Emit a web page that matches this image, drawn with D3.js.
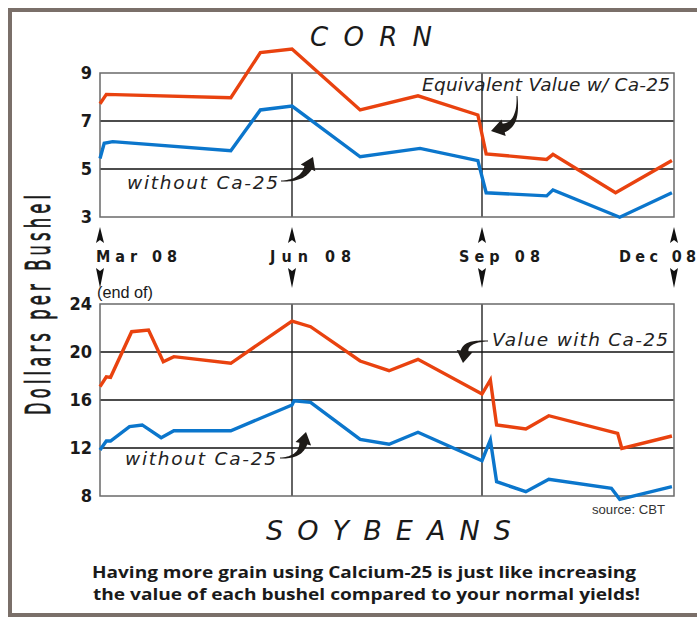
<!DOCTYPE html>
<html><head><meta charset="utf-8">
<script src="https://cdn.jsdelivr.net/npm/d3@7"></script>
<style>
html,body{margin:0;padding:0;background:#fff;}
svg{display:block;}
</style></head>
<body>
<svg id="chart" width="697" height="618"></svg>
<script>
// ---------------- DATA ----------------
const quarterDates = ["2008-03-31","2008-06-30","2008-09-30","2008-12-31"];
const monthLabels = ["Mar 08","Jun 08","Sep 08","Dec 08"];
const cornTicks = [3,5,7,9];
const soyTicks = [8,12,16,20,24];

const cornWithDates = ["2008-03-31","2008-04-03","2008-06-01","2008-06-15","2008-06-30","2008-08-02","2008-08-30","2008-09-28","2008-10-02","2008-10-31","2008-11-03","2008-12-03","2008-12-30"];
const cornWithValues = [7.72,8.11,7.97,9.85,10.0,7.46,8.05,7.25,5.63,5.40,5.61,4.01,5.35];

const cornWithoutDates = ["2008-03-31","2008-04-02","2008-04-06","2008-06-01","2008-06-15","2008-06-30","2008-08-02","2008-08-31","2008-09-28","2008-10-02","2008-10-31","2008-11-03","2008-12-05","2008-12-30"];
const cornWithoutValues = [5.44,6.07,6.14,5.76,7.46,7.62,5.51,5.86,5.35,4.01,3.88,4.13,2.99,4.01];

const soyWithDates = ["2008-03-31","2008-04-03","2008-04-05","2008-04-15","2008-04-23","2008-04-30","2008-05-05","2008-06-01","2008-06-30","2008-07-09","2008-08-02","2008-08-16","2008-08-30","2008-09-30","2008-10-04","2008-10-07","2008-10-21","2008-11-01","2008-12-04","2008-12-06","2008-12-30"];
const soyWithValues = [17.11,17.94,17.89,21.69,21.83,19.19,19.61,19.06,22.58,22.11,19.25,18.44,19.39,16.5,17.67,13.92,13.58,14.69,13.22,11.97,13.0];

const soyWithoutDates = ["2008-03-31","2008-04-03","2008-04-05","2008-04-14","2008-04-20","2008-04-29","2008-05-05","2008-06-01","2008-06-30","2008-07-01","2008-07-09","2008-08-02","2008-08-16","2008-08-30","2008-09-30","2008-10-04","2008-10-07","2008-10-21","2008-11-01","2008-12-01","2008-12-05","2008-12-30"];
const soyWithoutValues = [11.83,12.58,12.58,13.78,13.92,12.86,13.44,13.44,15.58,15.94,15.81,12.72,12.31,13.31,10.94,12.67,9.19,8.36,9.39,8.64,7.72,8.78];

// ---------------- LAYOUT ----------------
const parse = d3.timeParse("%Y-%m-%d");
const RED = "#e9420f", BLUE = "#0b76cc";
const svg = d3.select("#chart");

// outer frame
svg.append("rect").attr("x",10).attr("y",10).attr("width",700).attr("height",605)
  .attr("fill","none").attr("stroke","#7a6f69").attr("stroke-width",4);

const x = d3.scaleTime().domain(quarterDates.map(parse)).range([100,292,482,674]);
const yCorn = d3.scaleLinear().domain([3,9]).range([217,73]);
const ySoy = d3.scaleLinear().domain([8,24]).range([496,304]);

function panel(y, ticks) {
  const g = svg.append("g");
  const [y0, y1] = y.range();
  g.selectAll("line.h").data(ticks.slice(1,-1)).join("line")
    .attr("x1",x.range()[0]).attr("x2",x.range()[3])
    .attr("y1",d=>y(d)).attr("y2",d=>y(d))
    .attr("stroke","#111").attr("stroke-width",1.3);
  g.selectAll("line.v").data(quarterDates.slice(1,-1)).join("line")
    .attr("x1",d=>x(parse(d))).attr("x2",d=>x(parse(d)))
    .attr("y1",y1).attr("y2",y0)
    .attr("stroke","#111").attr("stroke-width",1.3);
  g.append("rect").attr("x",x.range()[0]).attr("y",y1)
    .attr("width",x.range()[3]-x.range()[0]).attr("height",y0-y1)
    .attr("fill","none").attr("stroke","#6a6a6a").attr("stroke-width",1.5);
  const ax = d3.axisLeft(y).tickValues(ticks).tickSize(0).tickPadding(8).tickFormat(d3.format("d"));
  const a = svg.append("g").attr("transform",`translate(${x.range()[0]},0)`).call(ax);
  a.select(".domain").remove();
  a.selectAll("text").attr("font-family","'DejaVu Sans Condensed','DejaVu Sans',sans-serif")
    .attr("font-weight","bold").attr("font-size",18).attr("fill","#1a1a1a");
}
panel(yCorn, cornTicks);
panel(ySoy, soyTicks);

function series(dates, values, y, color) {
  const pts = dates.map((d,i)=>[parse(d), values[i]]);
  svg.append("path").datum(pts)
    .attr("d", d3.line().x(d=>x(d[0])).y(d=>y(d[1])))
    .attr("fill","none").attr("stroke",color).attr("stroke-width",3.4)
    .attr("stroke-linejoin","miter").attr("stroke-linecap","butt");
}
series(cornWithDates, cornWithValues, yCorn, RED);
series(cornWithoutDates, cornWithoutValues, yCorn, BLUE);
series(soyWithDates, soyWithValues, ySoy, RED);
series(soyWithoutDates, soyWithoutValues, ySoy, BLUE);

// month labels and arrows
const labelOffsets = [-4,-22,-23,-55];
const labelWidths = [81,81,81,77];
const mg = svg.append("g");
quarterDates.forEach((d,i)=>{
  const xx = x(parse(d));
  mg.append("path").attr("d",`M${xx},227 L${xx+4},243 L${xx},240 L${xx-4},243 Z`).attr("fill","#111");
  mg.append("path").attr("d",`M${xx},288 L${xx+4},268 L${xx},271 L${xx-4},268 Z`).attr("fill","#111");
  mg.append("text").attr("x",xx+labelOffsets[i]).attr("y",262)
    .attr("font-family","'DejaVu Sans Condensed','DejaVu Sans',sans-serif")
    .attr("font-weight","bold").attr("font-size",16).attr("fill","#1a1a1a")
    .attr("textLength",labelWidths[i]).attr("lengthAdjust","spacing")
    .text(monthLabels[i].replace(" ","  "));
});

svg.append("text").attr("x",97).attr("y",298)
  .attr("font-family","'Liberation Sans',sans-serif")
  .attr("font-size",16).attr("fill","#1a1a1a")
  .attr("textLength",56).attr("lengthAdjust","spacingAndGlyphs").text("(end of)");

// axis title (tall condensed glyphs, widely spaced)
svg.append("text").attr("transform","translate(50,305) rotate(-90) scale(0.48,1)")
  .attr("text-anchor","middle")
  .attr("font-family","'DejaVu Sans',sans-serif")
  .attr("font-size",34).attr("fill","#1a1a1a")
  .attr("stroke","#1a1a1a").attr("stroke-width",0.9)
  .attr("textLength",458).attr("lengthAdjust","spacing")
  .text("Dollars per Bushel");

// titles
const titleFont = "'DejaVu Sans',sans-serif";
svg.append("text").attr("x",310).attr("y",46).attr("font-family",titleFont)
  .attr("font-style","italic").attr("font-size",26).attr("fill","#1a1a1a")
  .attr("textLength",122).attr("lengthAdjust","spacing").text("CORN");
svg.append("text").attr("x",266).attr("y",540).attr("font-family",titleFont)
  .attr("font-style","italic").attr("font-size",27).attr("fill","#1a1a1a")
  .attr("textLength",245).attr("lengthAdjust","spacing").text("SOYBEANS");

// annotations
function note(txt, x0, yb, w) {
  svg.append("text").attr("x",x0).attr("y",yb).attr("font-family",titleFont)
    .attr("font-style","italic").attr("font-size",18.5).attr("fill","#222")
    .attr("textLength",w).attr("lengthAdjust","spacing").text(txt);
}
note("Equivalent Value w/ Ca-25", 422, 91, 248);
note("without Ca-25", 127, 189, 151);
note("without Ca-25", 125, 465, 151);
note("Value with Ca-25", 492, 346, 176);

function swoosh(S, C, T, headLen, headW, w0, w1) {
  const dx = T[0]-C[0], dy = T[1]-C[1], L = Math.hypot(dx,dy);
  const ux = dx/L, uy = dy/L;
  const B = [T[0]-ux*headLen, T[1]-uy*headLen];
  const left = [], right = [];
  const N = 20;
  for (let i=0;i<=N;i++){
    const t=i/N, mt=1-t;
    const px = mt*mt*S[0]+2*mt*t*C[0]+t*t*B[0];
    const py = mt*mt*S[1]+2*mt*t*C[1]+t*t*B[1];
    let tx = 2*mt*(C[0]-S[0])+2*t*(B[0]-C[0]);
    let ty = 2*mt*(C[1]-S[1])+2*t*(B[1]-C[1]);
    const tl = Math.hypot(tx,ty)||1; tx/=tl; ty/=tl;
    const nx=-ty, ny=tx, w=(w0+(w1-w0)*Math.pow(t,1.4))/2;
    left.push([px+nx*w,py+ny*w]); right.push([px-nx*w,py-ny*w]);
  }
  const nx=-uy, ny=ux;
  const pts = left.concat([[B[0]+nx*headW/2,B[1]+ny*headW/2],T,[B[0]-nx*headW/2,B[1]-ny*headW/2]], right.reverse());
  svg.append("path").attr("d","M"+pts.map(p=>p.join(",")).join("L")+"Z").attr("fill","#1e1b18");
}
swoosh([281,181],[302,181],[313,157],12,16,1,8);
swoosh([517,96],[519,124],[491,131],13,17,1,9);
swoosh([280,458],[300,458],[306,432],12,16,1,8);
swoosh([488,341],[466,341],[463,363],12,16,1,8);

// source
svg.append("text").attr("x",592).attr("y",514)
  .attr("font-family","'Liberation Sans',sans-serif")
  .attr("font-size",13).attr("fill","#333")
  .attr("textLength",73).attr("lengthAdjust","spacingAndGlyphs").text("source: CBT");

// bottom message
const msg = ["Having more grain using Calcium-25 is just like increasing","the value of each bushel compared to your normal yields!"];
svg.selectAll("text.msg").data(msg).join("text").attr("class","msg")
  .attr("x",(d,i)=>i?93:92).attr("y",(d,i)=>578+i*22)
  .attr("font-family","'Open Sans','DejaVu Sans',sans-serif").attr("font-weight","bold")
  .attr("font-size",16.5).attr("fill","#1a1a1a")
  .attr("textLength",(d,i)=>i?547:544).attr("lengthAdjust","spacingAndGlyphs")
  .text(d=>d);
</script>
</body></html>
